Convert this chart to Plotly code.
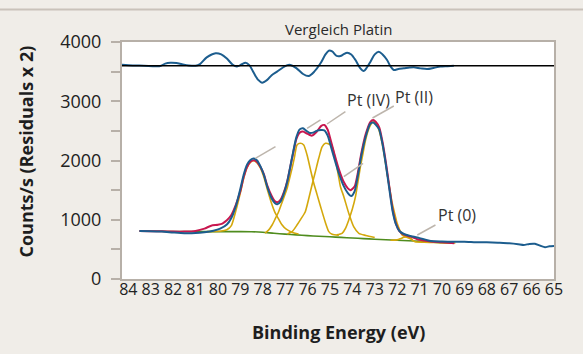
import plotly.graph_objects as go

# ---------------- data ----------------
data_e = [83.5, 83.0, 82.5, 82.0, 81.5, 81.0, 80.6, 80.2, 79.9, 79.6, 79.4, 79.2, 79.0, 78.85, 78.7, 78.55,
          78.4, 78.25, 78.1, 77.95, 77.8, 77.6, 77.45, 77.35, 77.2, 77.05, 76.9, 76.7, 76.5, 76.35, 76.2,
          76.05, 75.9, 75.75, 75.6, 75.4, 75.25, 75.1, 74.95, 74.8, 74.6, 74.4, 74.2, 74.05, 73.9, 73.75,
          73.6, 73.4, 73.2, 73.07, 72.95, 72.8, 72.65, 72.5, 72.35, 72.2, 72.05, 71.9, 71.7, 71.4, 71.0,
          70.7, 70.5, 70.0, 69.5, 69.0, 68.5, 68.0, 67.5, 67.0, 66.6, 66.35, 66.1, 65.85, 65.6, 65.4,
          65.2, 65.0]
data_v = [810, 808, 800, 785, 772, 775, 790, 815, 850, 920, 1030, 1230, 1520, 1760, 1930, 2010,
          2035, 2000, 1900, 1760, 1560, 1360, 1280, 1260, 1310, 1450, 1650, 2030, 2390, 2525, 2545,
          2500, 2465, 2470, 2500, 2515, 2510, 2420, 2230, 2030, 1780, 1580, 1450, 1400, 1480, 1750,
          2080, 2410, 2620, 2640, 2600, 2520, 2270, 1920, 1520, 1140, 920, 810, 760, 726, 690,
          660, 641, 632, 628, 630, 622, 619, 612, 603, 588, 575, 592, 594, 560, 537,
          552, 558]

fit_e = [83.5, 83.0, 82.5, 82.0, 81.5, 81.0, 80.6, 80.3, 80.0, 79.8, 79.6, 79.4, 79.2, 79.0, 78.85, 78.7,
         78.55, 78.4, 78.25, 78.1, 77.95, 77.8, 77.6, 77.45, 77.35, 77.2, 77.05, 76.9, 76.7, 76.5, 76.35,
         76.2, 76.05, 75.9, 75.8, 75.6, 75.4, 75.25, 75.1, 74.95, 74.8, 74.6, 74.4, 74.2, 74.08, 73.9,
         73.75, 73.6, 73.4, 73.2, 73.07, 72.95, 72.8, 72.65, 72.5, 72.35, 72.2, 72.05, 71.9, 71.7, 71.4,
         71.1, 70.8, 70.5, 70.0, 69.45]
fit_v = [810, 808, 805, 800, 800, 812, 850, 900, 915, 935, 990, 1080, 1250, 1480, 1720, 1890,
         1980, 2005, 1975, 1890, 1770, 1580, 1400, 1310, 1295, 1340, 1470, 1660, 2020, 2360, 2470,
         2490, 2460, 2430, 2420, 2480, 2580, 2600, 2520, 2320, 2110, 1850, 1650, 1530, 1500, 1560,
         1800, 2120, 2450, 2650, 2685, 2650, 2560, 2310, 1960, 1560, 1170, 930, 810, 750, 715,
         670, 650, 635, 622, 605]

bg_e = [83.5, 82.0, 80.5, 79.0, 78.5, 78.0, 77.5, 77.0, 76.5, 76.0, 75.5, 75.0, 74.5, 74.0, 73.5,
        73.0, 72.5, 72.0, 71.5, 71.0, 70.5, 70.0, 69.5]
bg_v = [810, 802, 800, 800, 798, 790, 772, 758, 745, 732, 722, 712, 702, 692, 682,
        672, 662, 654, 646, 635, 624, 614, 607]

# fitted components (component + background)
c1_e = [80.5, 79.9, 79.6, 79.4, 79.2, 79.0, 78.85, 78.7, 78.55, 78.4, 78.25, 78.1, 77.95, 77.8, 77.6,
        77.45, 77.3, 77.15, 76.95, 76.7, 76.4]
c1_v = [800, 805, 830, 900, 1150, 1450, 1700, 1880, 1970, 1995, 1960, 1870, 1720, 1520, 1270,
        1120, 1020, 920, 840, 790, 760]
c2_e = [77.9, 77.75, 77.58, 77.45, 77.29, 77.1, 76.91, 76.8, 76.69, 76.58, 76.47, 76.32, 76.17, 76.02,
        75.87, 75.72, 75.57, 75.4, 75.2, 75.05, 74.9, 74.6]
c2_v = [775, 820, 911, 1010, 1136, 1330, 1530, 1700, 1868, 2060, 2262, 2290, 2262, 2093,
        1850, 1615, 1420, 1200, 950, 800, 755, 738]
c3_e = [76.9, 76.69, 76.47, 76.3, 76.1, 75.95, 75.8, 75.65, 75.5, 75.35, 75.2, 75.05, 74.9, 74.75,
        74.6, 74.53, 74.38, 74.16, 73.94, 73.71, 73.4, 73.0]
c3_v = [760, 798, 911, 1010, 1136, 1350, 1586, 1810, 2037, 2230, 2290, 2280, 2233, 2008,
        1700, 1558, 1389, 1109, 883, 771, 735, 700]
c4_e = [74.7, 74.46, 74.3, 74.16, 74.0, 73.86, 73.75, 73.64, 73.52, 73.41, 73.3, 73.19, 73.07, 72.89,
        72.78, 72.67, 72.56, 72.45, 72.33, 72.22, 72.1, 72.0, 71.89, 71.78, 71.55, 71.3]
c4_v = [745, 771, 860, 996, 1180, 1389, 1640, 1895, 2130, 2346, 2500, 2599, 2655, 2599,
        2470, 2290, 2050, 1784, 1520, 1278, 1090, 940, 830, 743, 700, 660]
c5_e = [72.3, 72.0, 71.85, 71.7, 71.55, 71.4, 71.3, 71.2, 70.8, 70.3, 69.8, 69.4]
c5_v = [655, 660, 680, 705, 714, 690, 650, 630, 622, 615, 610, 607]

resid_e = [84.28, 83.8, 83.3, 82.8, 82.57, 82.35, 82.12, 81.85, 81.6, 81.3, 81.0, 80.8, 80.5, 80.1,
           79.85, 79.6, 79.35, 79.15, 78.95, 78.77, 78.6, 78.4, 78.2, 78.03, 77.8, 77.6, 77.36, 77.1,
           76.9, 76.76, 76.5, 76.2, 75.95, 75.7, 75.42, 75.2, 75.05, 74.9, 74.7, 74.53, 74.4, 74.23,
           74.05, 73.86, 73.65, 73.49, 73.35, 73.19, 73.0, 72.82, 72.65, 72.45, 72.3, 72.15, 71.95,
           71.7, 71.45, 71.26, 70.95, 70.66, 70.35, 70.07, 69.75, 69.47]
resid_v = [3615, 3605, 3600, 3592, 3595, 3635, 3650, 3645, 3625, 3605, 3600, 3628, 3740, 3810,
           3790, 3720, 3620, 3585, 3620, 3650, 3610, 3480, 3360, 3313, 3360, 3440, 3500, 3570,
           3610, 3612, 3560, 3460, 3426, 3500, 3640, 3790, 3853, 3840, 3765, 3764, 3790, 3820,
           3790, 3696, 3560, 3510, 3570, 3668, 3790, 3837, 3790, 3696, 3590, 3527, 3545,
           3556, 3568, 3573, 3555, 3544, 3565, 3585, 3592, 3600]

zero_e = [84.28, 65.0]
zero_v = [3600, 3600]

x_ticks = list(range(84, 64, -1))
y_ticks = [0, 500, 1000, 1500, 2000, 2500, 3000, 3500, 4000]
y_ticktext = ["0", "", "1000", "", "2000", "", "3000", "", "4000"]

labels = ["Pt (IV)", "Pt (II)", "Pt (0)"]
label_e = [73.26, 71.27, 69.31]
label_v = [3021, 3072, 1080]

# ---------------- styling ----------------
FONT = "Open Sans"
BLUE = "#1c5d8e"
RED = "#c8174f"
YELLOW = "#d4a80c"
GREEN = "#4f8c1e"
FRAME = "#b7b0a8"
LEADER = "#bdb5ac"
BG = "#f0ede8"

fig = go.Figure()
fig.add_trace(go.Scatter(x=bg_e, y=bg_v, mode="lines", line=dict(color=GREEN, width=1.6, shape="spline", smoothing=0.6)))
for ce, cv in [(c1_e, c1_v), (c2_e, c2_v), (c3_e, c3_v), (c4_e, c4_v), (c5_e, c5_v)]:
    fig.add_trace(go.Scatter(x=ce, y=cv, mode="lines", line=dict(color=YELLOW, width=1.6, shape="spline", smoothing=0.6)))
fig.add_trace(go.Scatter(x=fit_e, y=fit_v, mode="lines", line=dict(color=RED, width=2, shape="spline", smoothing=0.6)))
fig.add_trace(go.Scatter(x=data_e, y=data_v, mode="lines", line=dict(color=BLUE, width=2, shape="spline", smoothing=0.6)))
fig.add_trace(go.Scatter(x=resid_e, y=resid_v, mode="lines", line=dict(color=BLUE, width=2, shape="spline", smoothing=0.8)))
fig.add_trace(go.Scatter(x=zero_e, y=zero_v, mode="lines", line=dict(color="#000000", width=1.5)))

# leader lines
leaders = [
    (78.33, 2037, 77.43, 2233),
    (76.02, 2543, 75.42, 2684),
    (75.13, 2616, 74.31, 2824),
    (73.10, 2717, 72.15, 2920),
    (74.38, 1727, 73.52, 1953),
    (71.10, 743, 70.29, 911),
]
shapes = [dict(type="line", xref="x", yref="y", x0=a, y0=b, x1=c, y1=d,
               line=dict(color=LEADER, width=1.5)) for a, b, c, d in leaders]
# top decorative rule
shapes.append(dict(type="line", xref="paper", yref="paper", x0=-0.29, x1=1.08,
                   y0=(279 - 9.5) / 237, y1=(279 - 9.5) / 237, line=dict(color="#c9c2ba", width=2)))

annotations = [dict(x=e, y=v, xref="x", yref="y", text=t, showarrow=False,
                    xanchor="center", yanchor="middle",
                    font=dict(family=FONT, size=16, color="#333333"))
               for t, e, v in zip(labels, label_e, label_v)]
annotations.append(dict(x=0.5, y=(279 - 29) / 237, xref="paper", yref="paper", text="Vergleich Platin",
                        showarrow=False, xanchor="center", yanchor="middle",
                        font=dict(family=FONT, size=15, color="#2a2a2a")))
annotations.append(dict(x=0.5, y=(279 - 332) / 237, xref="paper", yref="paper",
                        text="<b>Binding Energy (eV)</b>", showarrow=False,
                        xanchor="center", yanchor="middle",
                        font=dict(family=FONT, size=18, color="#1e1e1e")))
annotations.append(dict(x=(25.5 - 122) / 432, y=(279 - 152) / 237, xref="paper", yref="paper",
                        text="<b>Counts/s (Residuals x 2)</b>", showarrow=False, textangle=-90,
                        xanchor="center", yanchor="middle",
                        font=dict(family=FONT, size=18, color="#1e1e1e")))

fig.update_layout(
    width=583, height=354,
    margin=dict(l=122, r=29, t=42, b=75),
    paper_bgcolor=BG, plot_bgcolor="#ffffff",
    showlegend=False,
    shapes=shapes, annotations=annotations,
    font=dict(family=FONT, color="#222222"),
)
fig.update_xaxes(range=[84.28, 65], tickvals=x_ticks, ticktext=[str(t) for t in x_ticks],
                 ticks="", showgrid=False, zeroline=False, showline=True, mirror=True,
                 ticklabelstandoff=-5,
                 linecolor=FRAME, linewidth=2, tickfont=dict(family=FONT, size=16, color="#222222"))
fig.update_yaxes(range=[0, 4000], tickvals=y_ticks, ticktext=y_ticktext,
                 ticks="outside", ticklen=9, tickwidth=1.5, tickcolor=FRAME, ticklabelstandoff=6,
                 showgrid=False, zeroline=False, showline=True, mirror=True,
                 linecolor=FRAME, linewidth=2, tickfont=dict(family=FONT, size=18, color="#222222"))

fig.write_html("out.html")
